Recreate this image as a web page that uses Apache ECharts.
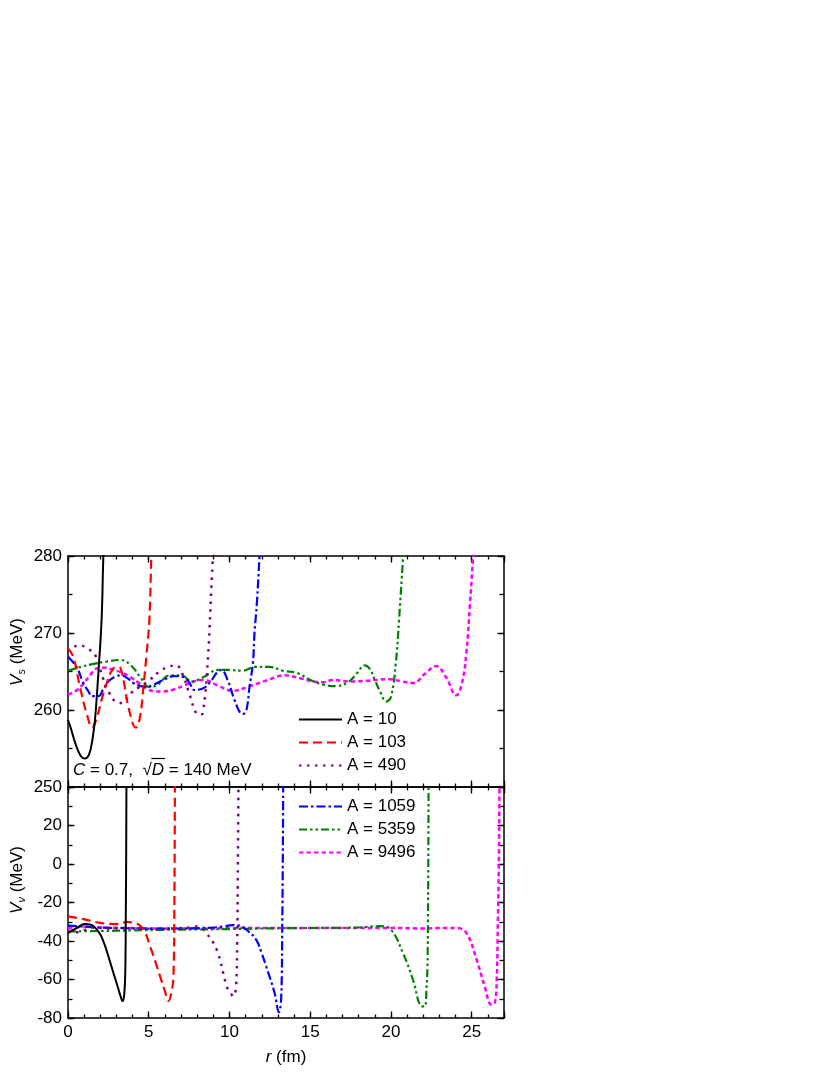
<!DOCTYPE html>
<html>
<head>
<meta charset="utf-8">
<script src="https://cdn.jsdelivr.net/npm/echarts@6/dist/echarts.min.js"></script>
<style>
html, body { margin: 0; padding: 0; background: #fff; }
#chart { width: 830px; height: 1075px; }
</style>
</head>
<body>
<div id="chart"></div>
<script>
// values: r in fm, potentials in MeV
const names = ['A = 10', 'A = 103', 'A = 490', 'A = 1059', 'A = 5359', 'A = 9496']

// upper panel, V_s
const rS10 = [0, 0.15, 0.5, 0.8, 1.05, 1.3, 1.5, 1.67, 1.88, 2.08, 2.19, 2.3]
const vS10 = [258.7, 257.8, 255.4, 254.0, 253.7, 254.2, 256.0, 258.7, 264.8, 271.7, 280, 285]
const rS103 = [0, 0.33, 0.74, 1.15, 1.5, 1.8, 2.1, 2.4, 2.8, 3.15, 3.43, 3.74, 4.2, 4.46, 4.67, 4.87, 5.04, 5.16, 5.3]
const vS103 = [268, 266.9, 263, 259.6, 257.7, 259.1, 261.5, 263.5, 265.4, 265.6, 263.9, 260.4, 257.7, 259.1, 263, 267.4, 271.7, 280, 288]
const rS490 = [0, 0.35, 0.74, 1.2, 1.67, 2.19, 2.56, 3.0, 3.3, 3.9, 4.42, 5.0, 5.66, 6.2, 6.7, 7.1, 7.5, 7.93, 8.15, 8.35, 8.66, 8.97, 9.07, 9.2]
const vS490 = [267.6, 268.2, 268.4, 268.0, 267.2, 264.0, 262.2, 261.0, 260.9, 262.2, 263.0, 263.8, 265.0, 265.6, 265.8, 264.6, 262.2, 259.6, 259.4, 259.6, 266.5, 279.5, 280.5, 286]
const rS1059 = [0, 0.53, 0.95, 1.3, 1.45, 1.9, 2.2, 2.6, 3.0, 3.33, 3.7, 4.05, 4.5, 4.87, 5.3, 5.7, 6.1, 6.53, 7.15, 7.5, 7.83, 8.45, 8.9, 9.27, 9.5, 9.9, 10.31, 10.68, 10.85, 11.05, 11.24, 11.45, 11.55, 11.7, 11.86, 12.0]
const vS1059 = [266.9, 265.6, 263.5, 262.3, 261.8, 261.8, 262.8, 263.9, 264.4, 264.5, 264.1, 263.5, 263.1, 263.0, 263.3, 263.7, 264.1, 264.4, 264.3, 263.6, 262.6, 262.9, 263.9, 265.0, 265.2, 263.8, 261.3, 259.6, 259.5, 260, 263, 266.1, 270, 274, 280, 285]
const rS5359 = [0, 0.8, 1.6, 2.4, 3.28, 3.9, 4.5, 5.0, 5.5, 6.3, 7.0, 7.7, 8.4, 9.3, 10.0, 10.8, 11.6, 12.5, 13.3, 14.2, 15.0, 15.8, 16.6, 17.4, 17.9, 18.37, 18.7, 19.0, 19.35, 19.7, 20.0, 20.3, 20.5, 20.74, 20.9]
const vS5359 = [265.1, 265.6, 266.0, 266.3, 266.5, 265.8, 264.2, 263.0, 263.2, 264.5, 264.5, 263.7, 264.3, 265.2, 265.2, 265.1, 265.6, 265.6, 265.1, 264.8, 263.9, 263.3, 263.1, 263.7, 264.8, 265.8, 265.3, 263.9, 262.3, 261.1, 261.7, 266.1, 271.7, 279.5, 285]
const rS9496 = [0, 0.5, 0.95, 1.4, 1.78, 2.3, 2.8, 3.3, 3.84, 4.4, 4.88, 5.4, 5.9, 6.6, 7.2, 7.8, 8.45, 9.26, 10.2, 11.13, 12.37, 13.4, 14.44, 15.17, 15.8, 16.4, 17.4, 18.5, 19.9, 20.7, 21.4, 22.1, 22.8, 23.4, 24.05, 24.4, 24.67, 24.88, 25.08, 25.2]
const vS9496 = [262.0, 262.5, 263.4, 264.6, 265.4, 265.5, 265.2, 264.9, 264.3, 263.5, 262.8, 262.4, 262.4, 262.7, 263.2, 263.7, 263.9, 263.2, 262.5, 263.0, 263.9, 264.5, 264.1, 263.7, 263.6, 263.9, 263.7, 263.8, 264.0, 263.7, 263.5, 264.7, 265.7, 264.3, 261.9, 263.5, 267.4, 273.4, 279.7, 284]

// lower panel, V_v
const rV10 = [0, 0.5, 1.0, 1.4, 1.94, 2.25, 2.56, 2.82, 3.07, 3.25, 3.38, 3.48, 3.55, 3.58, 3.6, 3.62]
const vV10 = [-35.8, -33.5, -31.2, -31.5, -35.8, -41.5, -49.6, -56.8, -63.5, -68.5, -71.2, -68, -54.8, -25, 0, 45]
const rV103 = [0, 0.95, 1.98, 3.0, 3.4, 3.63, 4.0, 4.46, 4.8, 5.08, 5.4, 5.7, 6.0, 6.22, 6.4, 6.53, 6.59, 6.62]
const vV103 = [-27.2, -28.6, -30.6, -31.2, -30.5, -30.1, -30.5, -32.0, -36, -42.7, -50.5, -58.3, -66, -71.2, -67, -58.3, -18.5, 45]
const rV490 = [0, 0.5, 0.95, 1.5, 2.5, 3.5, 4.5, 5.5, 6.5, 7.5, 7.97, 8.3, 8.59, 9.21, 9.83, 10.05, 10.25, 10.4, 10.48, 10.52, 10.56]
const vV490 = [-35.3, -35.5, -34.5, -33, -33.5, -33.2, -33.5, -33.8, -33.5, -33, -32.5, -33.5, -36, -44.5, -63.5, -67, -68.7, -64, -40, 0, 45]
const rV1059 = [0, 1, 2, 3, 4, 5, 6, 7, 8, 9, 9.6, 10.2, 10.62, 11.1, 11.65, 12.0, 12.27, 12.79, 13.06, 13.2, 13.27, 13.3, 13.33]
const vV1059 = [-32, -32.5, -33, -33.2, -33.4, -33.5, -33.5, -33.5, -33.3, -33, -32.5, -31.8, -32, -34.5, -39.3, -46.5, -53.1, -66.9, -77, -70, -30, 0, 45]
const rV5359 = [0, 2, 4, 6, 8, 10, 12, 14, 16, 18, 19.3, 20.0, 20.74, 21.36, 21.88, 22.09, 22.2, 22.26, 22.3, 22.33]
const vV5359 = [-35, -34.8, -34.5, -34.2, -34, -33.8, -33.5, -33.3, -33.2, -33, -32.3, -34.1, -46.2, -60, -73.8, -74, -65, -53.1, -18.5, 45]
const rV9496 = [0, 0.5, 1, 2, 3, 5, 8, 11, 14, 17, 20, 22, 23.5, 24.05, 24.67, 25.3, 25.8, 26.22, 26.43, 26.55, 26.62, 26.68, 26.72]
const vV9496 = [-33.5, -33, -32.5, -33, -33.2, -33.5, -33.5, -33.3, -33.3, -33.2, -33.2, -33.5, -33.2, -33.2, -35.8, -49.6, -63.5, -73, -72.1, -60, -30, 0, 45]

const FONT = 'Arial, "Liberation Sans", Helvetica, sans-serif'
const FS = 17

const styles = [
  { color: '#000000', type: 'solid', width: 2 },
  { color: '#ff0000', type: [9, 5], width: 2.2 },
  { color: '#800080', type: [2.5, 5.5], width: 2.5 },
  { color: '#0000ff', type: [9, 3, 2.5, 3], width: 2.2 },
  { color: '#008000', type: [8, 3, 2.5, 3, 2.5, 3], width: 2.2 },
  { color: '#ff00ff', type: [4.5, 3], width: 2.5 },
]

const pairs = (r, v) => r.map((x, i) => [x, v[i]])

const topData = [pairs(rS10, vS10), pairs(rS103, vS103), pairs(rS490, vS490),
  pairs(rS1059, vS1059), pairs(rS5359, vS5359), pairs(rS9496, vS9496)]
const botData = [pairs(rV10, vV10), pairs(rV103, vV103), pairs(rV490, vV490),
  pairs(rV1059, vV1059), pairs(rV5359, vV5359), pairs(rV9496, vV9496)]

const axisLine = { show: true, onZero: false, lineStyle: { color: '#000', width: 1.5 } }
const noLine = { show: false, onZero: false }

// one x axis: major ticks (interval 5) or minor ticks (interval 1)
const xAx = (grid, pos, minor, labels) => ({
  type: 'value', gridIndex: grid, position: pos, min: 0, max: 27,
  interval: minor ? 1 : 5,
  axisLine: minor ? noLine : axisLine,
  axisTick: { show: true, inside: true, length: minor ? 3.5 : 6.5, lineStyle: { color: '#000', width: 1.3 } },
  axisLabel: labels ? {
    show: true, color: '#000', fontSize: FS, fontFamily: FONT, margin: 6,
    formatter: v => (v % 5 === 0 ? String(v) : '')
  } : { show: false },
  splitLine: { show: false },
})

const yAx = (grid, pos, min, max, step, minor, labels) => ({
  type: 'value', gridIndex: grid, position: pos, min, max,
  interval: minor ? step / 2 : step,
  axisLine: minor ? noLine : axisLine,
  axisTick: { show: true, inside: true, length: minor ? 4.5 : 6.5, lineStyle: { color: '#000', width: 1.3 } },
  axisLabel: labels ? {
    show: true, color: '#000', fontSize: FS, fontFamily: FONT, margin: 6,
    formatter: v => (v === 40 ? '' : String(v))
  } : { show: false },
  splitLine: { show: false },
})

const xAxes = [
  xAx(0, 'bottom', false, false), xAx(0, 'bottom', true, false),
  xAx(0, 'top', false, false), xAx(0, 'top', true, false),
  xAx(1, 'bottom', false, true), xAx(1, 'bottom', true, false),
  xAx(1, 'top', false, false), xAx(1, 'top', true, false),
]
const yAxes = [
  yAx(0, 'left', 250, 280, 10, false, true), yAx(0, 'left', 250, 280, 10, true, false),
  yAx(0, 'right', 250, 280, 10, false, false), yAx(0, 'right', 250, 280, 10, true, false),
  yAx(1, 'left', -80, 40, 20, false, true), yAx(1, 'left', -80, 40, 20, true, false),
  yAx(1, 'right', -80, 40, 20, false, false), yAx(1, 'right', -80, 40, 20, true, false),
]

const mkSeries = (data, axisIdx) => data.map((d, i) => ({
  name: names[i], type: 'line', data: d,
  xAxisIndex: axisIdx, yAxisIndex: axisIdx,
  showSymbol: false, symbol: 'none', smooth: 0.4, clip: true,
  lineStyle: { color: styles[i].color, type: styles[i].type, width: styles[i].width },
  itemStyle: { color: styles[i].color },
  z: 10 - i,
}))

// text helpers for axis titles / annotation (italic pieces, subscripts)
const ctx = document.createElement('canvas').getContext('2d')
const measure = (t, size, italic) => {
  ctx.font = `${italic ? 'italic ' : ''}${size}px ${FONT}`
  return ctx.measureText(t).width
}
const pieceTexts = (pieces, startX, y) => {
  let x = startX
  const out = []
  for (const p of pieces) {
    const size = p.size || FS
    out.push({
      type: 'text', x, y: y + (p.dy || 0),
      style: { text: p.t, fill: '#000', fontSize: size, fontFamily: FONT,
        fontStyle: p.it ? 'italic' : 'normal', align: 'left', verticalAlign: 'middle' },
    })
    p.x0 = x
    p.w = measure(p.t, size, p.it)
    x += p.w
  }
  return { els: out, width: x - startX }
}
const rotatedTitle = (pieces, cx, cy) => {
  const total = pieces.reduce((s, p) => s + measure(p.t, p.size || FS, p.it), 0)
  const { els } = pieceTexts(pieces, -total / 2, 0)
  return { type: 'group', x: cx, y: cy, rotation: Math.PI / 2, children: els }
}

const ysTitle = rotatedTitle([{ t: 'V', it: true }, { t: 's', it: true, size: 11, dy: 5 }, { t: ' (MeV)' }], 17, 652)
const yvTitle = rotatedTitle([{ t: 'V', it: true }, { t: 'ν', it: true, size: 11, dy: 5 }, { t: ' (MeV)' }], 17, 880)

const xPieces = [{ t: 'r', it: true }, { t: ' (fm)' }]
const xW = xPieces.reduce((s, p) => s + measure(p.t, FS, p.it), 0)
const xTitle = { type: 'group', children: pieceTexts(xPieces, 286 - xW / 2, 1057).els }

const notePieces = [{ t: 'C', it: true }, { t: ' = 0.7,  √' }, { t: 'D', it: true }, { t: ' = 140 MeV' }]
const note = pieceTexts(notePieces, 73, 770)
const dPiece = notePieces[2]
const noteBar = {
  type: 'line',
  shape: { x1: dPiece.x0 - 0.5, y1: 758.5, x2: dPiece.x0 + dPiece.w + 1, y2: 758.5 },
  style: { stroke: '#000', lineWidth: 1.2 },
}

const legendBase = {
  orient: 'vertical', left: 298, padding: 0,
  itemWidth: 43, itemHeight: 14, itemGap: 6, selectedMode: false,
  itemStyle: { opacity: 0 },
  textStyle: { fontSize: FS, color: '#000', fontFamily: FONT },
}

const chart = echarts.init(document.getElementById('chart'))
chart.setOption({
  animation: false,
  backgroundColor: '#fff',
  grid: [
    { left: 68, top: 556, width: 436, height: 231 },
    { left: 68, top: 787, width: 436, height: 231 },
  ],
  xAxis: xAxes,
  yAxis: yAxes,
  legend: [
    { ...legendBase, data: names.slice(0, 3), top: 711 },
    { ...legendBase, data: names.slice(3), top: 798 },
  ],
  graphic: [ysTitle, yvTitle, xTitle, { type: 'group', children: note.els }, noteBar],
  series: [...mkSeries(topData, 0), ...mkSeries(botData, 4)],
})
</script>
</body>
</html>
